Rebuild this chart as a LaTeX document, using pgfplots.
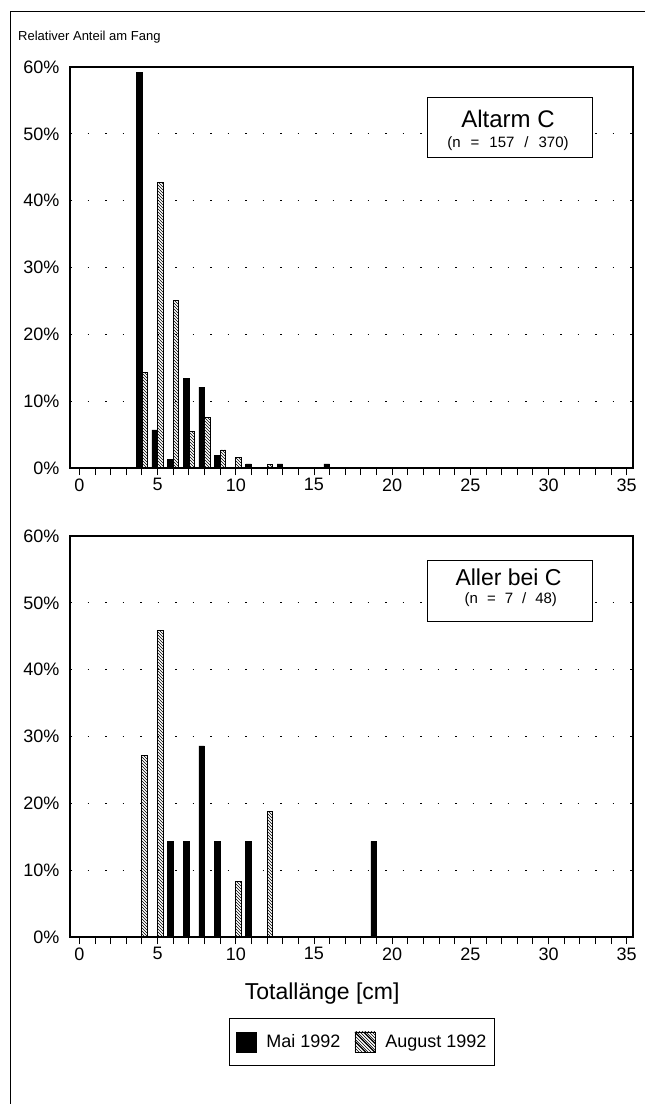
\documentclass[border=0pt]{standalone}
\usepackage{fontspec}
\setmainfont{Liberation Sans}
\usepackage{pgfplots}
\usepackage{pgfplotstable}
\pgfplotsset{compat=1.18}
\usetikzlibrary{patterns}

\pgfplotstableread{
x y
4 59.2
5 5.7
6 1.3
7 13.4
8 12.1
9 1.9
11 0.6
13 0.6
16 0.6
}\topMai
\pgfplotstableread{
x y
4 14.3
5 42.7
6 25.1
7 5.4
8 7.6
9 2.7
10 1.6
12 0.5
}\topAug
\pgfplotstableread{
x y
6 14.3
7 14.3
8 28.6
9 14.3
11 14.3
19 14.3
}\botMai
\pgfplotstableread{
x y
4 27.1
5 45.8
10 8.3
12 18.8
}\botAug

\tikzset{boxnode/.style={draw, line width=1pt, fill=white, minimum width=165pt, minimum height=60pt, inner sep=0pt}}

\pgfplotsset{
 mystyle/.style={
  scale only axis, width=563pt, height=401pt,
  xmin=-0.6, xmax=35.4, ymin=0, ymax=60,
  xtick={0,5,...,35}, minor xtick={0,1,...,35},
  xtick pos=bottom, tick align=outside,
  major tick length=7pt, minor tick length=7pt,
  ytick={0,10,...,60}, ytick pos=left,
  ytick style={draw=none},
  xtick style={line width=0.9pt, black},
  minor tick style={line width=0.9pt, black},
  yticklabel={\pgfmathprintnumber{\tick}\%},
  ymajorgrids,
  major grid style={dash pattern=on 1.5pt off 16pt, line width=0.9pt, black},
  axis line style={line width=1.2pt},
  tick label style={font=\fontsize{18}{20}\selectfont},
  /pgf/number format/assume math mode=true,
  ybar, bar width=0.36,
 },
 maiplot/.style={fill=black, draw=black, line width=0.6pt, bar shift=-0.18},
 augplot/.style={pattern=north west lines, draw=black, line width=0.9pt, bar shift=0.18},
}

\begin{document}
\begin{tikzpicture}[x=1pt,y=1pt]
\path[use as bounding box] (0,0) rectangle (645,-1104);
\draw[line width=1pt] (645,-11) -- (10,-11) -- (10,-1104);
\node[anchor=base west, font=\fontsize{13}{15}\selectfont, inner sep=0pt] at (18,-40) {Relativer Anteil am Fang};

\begin{axis}[mystyle, at={(70pt,-468pt)}, anchor=south west]
\addplot[maiplot] table[x=x,y=y] {\topMai};
\addplot[augplot] table[x=x,y=y] {\topAug};
\node[boxnode] at (rel axis cs:0.781,0.848) {};
\node[anchor=base, inner sep=0pt, font=\fontsize{24}{26}\selectfont] at (rel axis cs:0.778,0.848) {Altarm C};
\node[anchor=base, inner sep=0pt, font=\fontsize{15}{17}\selectfont] at (rel axis cs:0.778,0.8005)
  {(n\hspace{10pt}=\hspace{10pt}157\hspace{10pt}/\hspace{10pt}370)};
\end{axis}

\begin{axis}[mystyle, at={(70pt,-937pt)}, anchor=south west,
  xlabel={Totallänge [cm]},
  xlabel style={font=\fontsize{23}{25}\selectfont, at={(ticklabel cs:0.448)}, anchor=north, yshift=-16pt},
  legend style={at={(0.519,-0.202)}, anchor=north, draw=black, line width=1pt,
    font=\fontsize{18}{20}\selectfont, inner xsep=6pt, inner ysep=13pt},
  legend columns=-1,
  legend cell align=left,
  /tikz/every odd column/.append style={column sep=8pt},
  /tikz/every even column/.append style={column sep=12pt},
]
\addplot[maiplot, legend image code/.code={\fill[black] (0pt,-10pt) rectangle (20pt,10pt);}] table[x=x,y=y] {\botMai};
\addlegendentry{Mai 1992}
\addplot[augplot, legend image code/.code={
   \draw[line width=0.9pt] (0pt,-10pt) rectangle (20pt,10pt);
   \draw[line width=0.9pt] (0pt,10pt) -- (20pt,-10pt);
   \draw[line width=0.9pt] (9pt,10pt) -- (20pt,-1pt);
   \draw[line width=0.9pt] (0pt,1pt) -- (11pt,-10pt);}] table[x=x,y=y] {\botAug};
\addlegendentry{August 1992}
\node[boxnode, minimum height=61pt] at (rel axis cs:0.782,0.862) {};
\node[anchor=base, inner sep=0pt, font=\fontsize{23}{25}\selectfont] at (rel axis cs:0.779,0.8756) {Aller bei C};
\node[anchor=base, inner sep=0pt, font=\fontsize{15}{17}\selectfont] at (rel axis cs:0.783,0.8308)
  {(n\hspace{9pt}=\hspace{9pt}7\hspace{9pt}/\hspace{9pt}48)};
\end{axis}
\end{tikzpicture}
\end{document}
